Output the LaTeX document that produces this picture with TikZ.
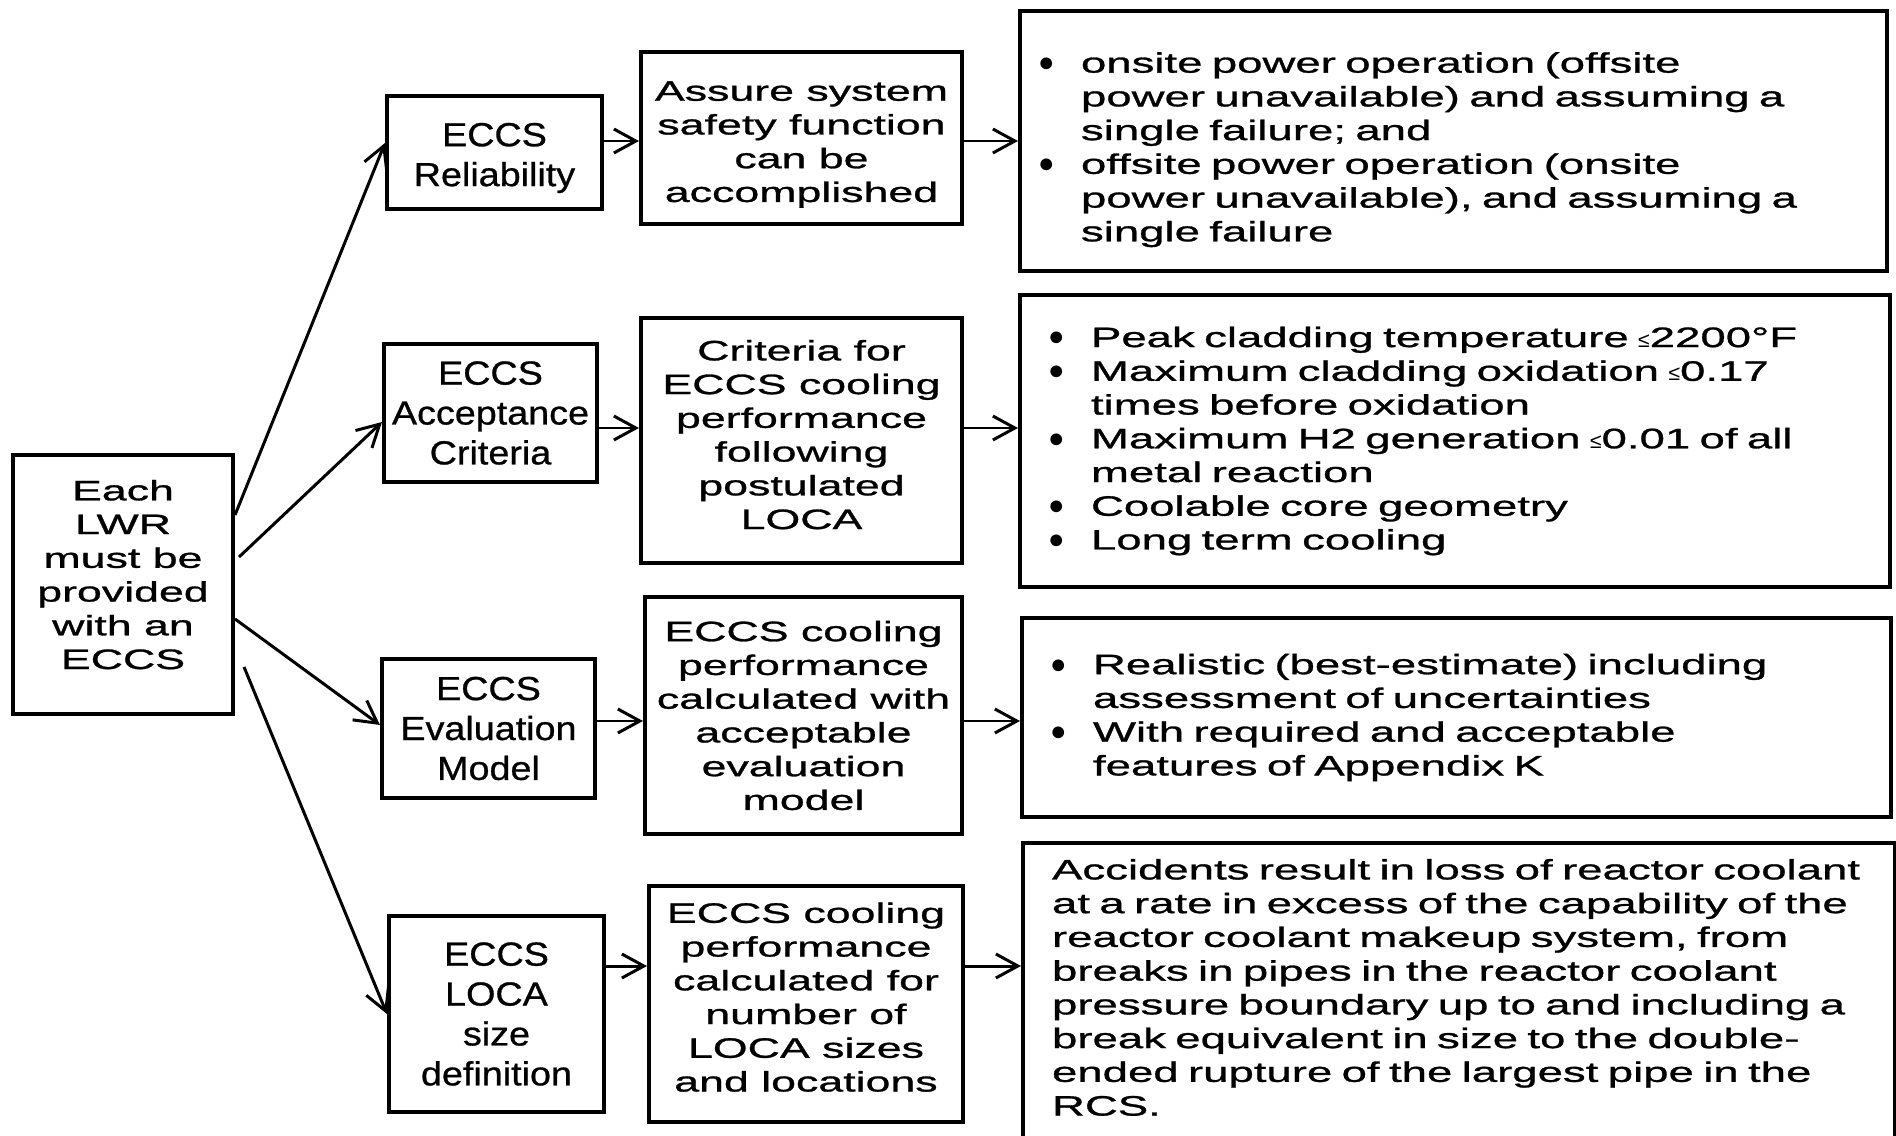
\documentclass[tikz,border=0pt]{standalone}
\usepackage{fontspec}
\setmainfont{Liberation Sans}
\newfontfamily\widefont[FakeStretch=1.59,FakeBold=1]{Liberation Sans}
\newfontfamily\listfont[FakeStretch=1.62,FakeBold=1]{Liberation Sans}
\newfontfamily\narrowfont[FakeStretch=1.13,FakeBold=0.8]{Liberation Sans}
\usetikzlibrary{arrows.meta,positioning,calc}
\newlength{\bulw}
\setlength{\bulw}{0.86cm}
\newcommand{\bul}{\makebox[\bulw][l]{\raisebox{0.6pt}{\normalfont\fontsize{15.5}{15.5}\selectfont ●}}}
\newcommand{\ind}{\hspace*{\bulw}}
\newcommand{\leqs}{{\normalfont\fontsize{12}{12}\selectfont ≤}}
% struts that move a node's text down (\dn) or up (\up)
\newcommand{\dn}[1]{\rule{0pt}{#1}}
\newcommand{\upr}[1]{\rule[-#1]{0pt}{0pt}}

\begin{document}
\begin{tikzpicture}
[every node/.style={draw,line width=2.3pt,shape=rectangle,inner sep=0pt,align=center},
wide/.style={font=\widefont\fontsize{16}{19.2}\selectfont},
narrow/.style={font=\narrowfont\fontsize{19}{22.7}\selectfont},
rbox/.style={font=\listfont\fontsize{16}{19.2}\selectfont,align=left,inner ysep=0pt},
txt/.style={draw=none,rbox,inner sep=0pt},
myedge/.style={>={Straight Barb[length=4.4mm,width=4.8mm]},->,line width=1.7pt}]
\useasboundingbox (0,0) rectangle (37.92,-22.72);
%%%%%%%%%%
%% root
\node[wide,minimum width=4.4cm,minimum height=5.18cm] (lwr) at (2.46,-11.69)
  {Each\\LWR\\must be\\provided\\with an\\ECCS\upr{11.4pt}};
%% requirements
\node[narrow,minimum width=4.3cm,minimum height=2.26cm] (rel) at (9.89,-3.05) {\dn{19.5pt}ECCS\\Reliability};
\node[narrow,minimum width=4.26cm,minimum height=2.76cm] (acc) at (9.81,-8.26) {ECCS\\Acceptance\\Criteria};
\node[narrow,minimum width=4.26cm,minimum height=2.78cm] (eva) at (9.77,-14.57) {ECCS\\Evaluation\\Model};
\node[narrow,minimum width=4.3cm,minimum height=3.92cm] (loca) at (9.93,-20.28) {ECCS\\LOCA\\size\\definition};
%% goals
\node[wide,minimum width=6.42cm,minimum height=3.44cm] (assure) at (16.03,-2.76)
  {\dn{18.5pt}Assure system\\safety function\\can be\\accomplished};
\node[wide,minimum width=6.42cm,minimum height=4.9cm] (crit) at (16.03,-8.81)
  {Criteria for\\ECCS cooling\\performance\\following\\postulated\\LOCA\upr{6.8pt}};
\node[wide,minimum width=6.34cm,minimum height=4.74cm] (calcw) at (16.07,-14.31)
  {ECCS cooling\\performance\\calculated with\\acceptable\\evaluation\\model};
\node[wide,minimum width=6.28cm,minimum height=4.72cm] (calcf) at (16.12,-20.08)
  {ECCS cooling\\performance\\calculated for\\number of\\LOCA sizes\\and locations\upr{8pt}};
%% details
\node[rbox,text width=16.62cm,inner xsep=0.36cm,minimum height=5.2cm] (pw) at (29.07,-2.82)
  {\dn{21.5pt}\bul onsite power operation (offsite\\
   \ind power unavailable) and assuming a\\
   \ind single failure; and\\
   \bul offsite power operation (onsite\\
   \ind power unavailable), and assuming a\\
   \ind single failure};
\node[rbox,text width=16.28cm,inner xsep=0.56cm,minimum height=5.84cm] (lim) at (29.1,-8.82)
  {\bul Peak cladding temperature \leqs2200°F\\
   \bul Maximum cladding oxidation \leqs0.17\\
   \ind times before oxidation\\
   \bul Maximum H2 generation \leqs0.01 of all\\
   \ind metal reaction\\
   \bul Coolable core geometry\\
   \bul Long term cooling};
\node[rbox,text width=16.26cm,inner xsep=0.56cm,minimum height=3.98cm] (bem) at (29.13,-14.35)
  {\bul Realistic (best-estimate) including\\
   \ind assessment of uncertainties\\
   \bul With required and acceptable\\
   \ind features of Appendix K};
\node[minimum width=17.44cm,minimum height=6.6cm,anchor=north west] (rcsbox) at (20.42,-16.82) {};
\node[txt,text width=16.6cm,anchor=north west] (rcs) at ([xshift=0.58cm,yshift=-0.32cm]rcsbox.north west)
  {Accidents result in loss of reactor coolant\\
   at a rate in excess of the capability of the\\
   reactor coolant makeup system, from\\
   breaks in pipes in the reactor coolant\\
   pressure boundary up to and including a\\
   break equivalent in size to the double-\\
   ended rupture of the largest pipe in the\\
   RCS.};
%% rows of arrows
\coordinate (r1) at (0,-2.82);
\coordinate (r2) at (0,-8.56);
\coordinate (r3) at (0,-14.42);
\coordinate (r4) at (0,-19.32);
%% edges
\draw[myedge] ([yshift=1.39cm]lwr.east) -- ([yshift=0.19cm]rel.west);
\draw[myedge] ([xshift=0.08cm,yshift=0.55cm]lwr.east) -- ([yshift=-0.18cm]acc.west);
\draw[myedge] ([yshift=-0.69cm]lwr.east) -- ([yshift=0.07cm]eva.west);
\draw[myedge] ([xshift=0.18cm,yshift=-1.65cm]lwr.east) -- (loca.west);
\draw[myedge] (rel.east |- r1) -- (assure.west |- r1);
\draw[myedge] (acc.east |- r2) -- (crit.west |- r2);
\draw[myedge] (eva.east |- r3) -- (calcw.west |- r3);
\draw[myedge] (loca.east |- r4) -- (calcf.west |- r4);
\draw[myedge] (assure.east |- r1) -- (pw.west |- r1);
\draw[myedge] (crit.east |- r2) -- (lim.west |- r2);
\draw[myedge] (calcw.east |- r3) -- (bem.west |- r3);
\draw[myedge] (calcf.east |- r4) -- (rcsbox.west |- r4);
\end{tikzpicture}
\end{document}
